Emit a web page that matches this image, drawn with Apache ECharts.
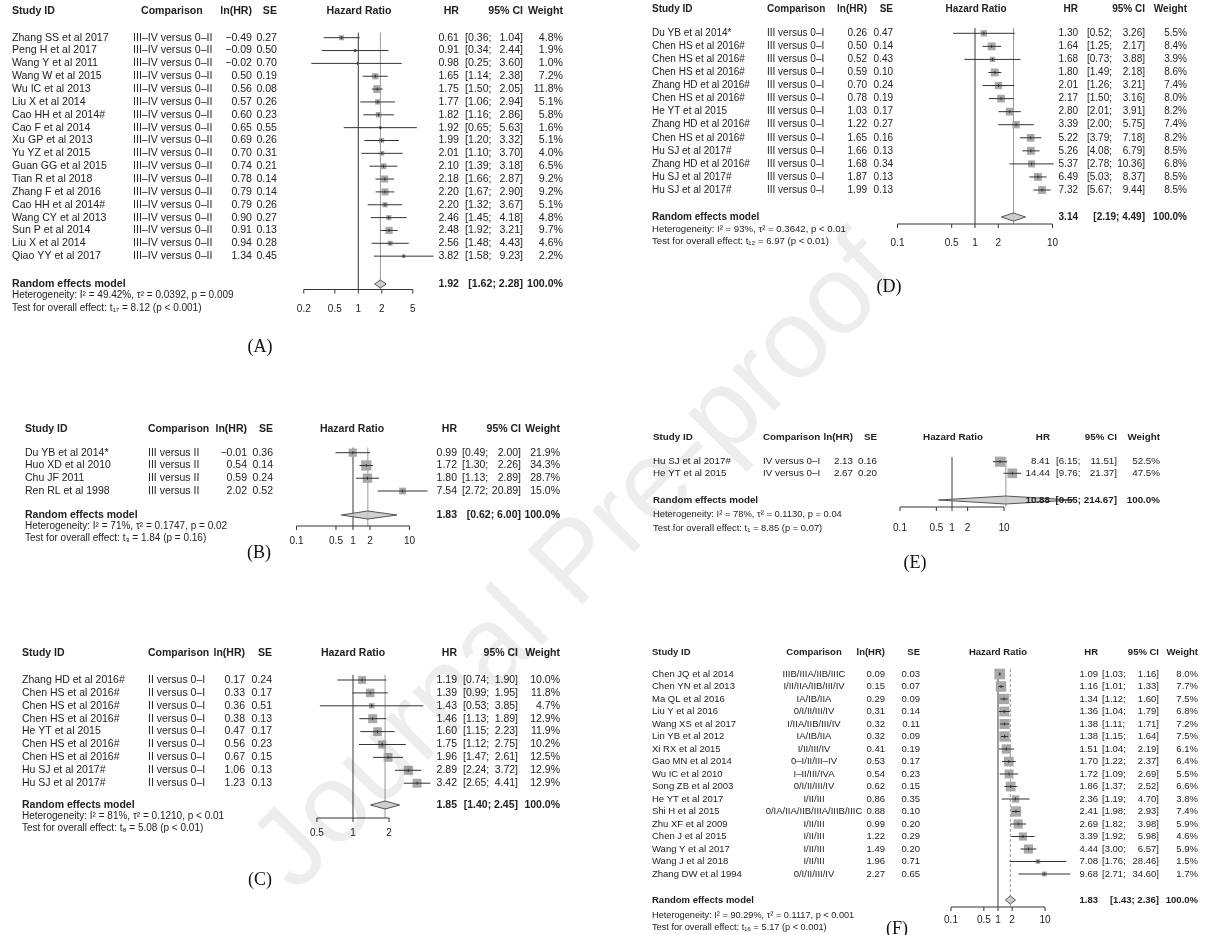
<!DOCTYPE html>
<html><head><meta charset="utf-8">
<script src="https://cdn.jsdelivr.net/npm/echarts@6/dist/echarts.min.js"></script>
<style>html,body{margin:0;padding:0;background:#fff}#c{width:1206px;height:935px}</style>
</head><body><div id="c"></div><script>
// ---------------- Panel A ----------------
const A_study = ["Zhang SS et al 2017","Peng H et al 2017","Wang Y et al 2011","Wang W et al 2015","Wu IC et al 2013","Liu X et al 2014","Cao HH et al 2014#","Cao F et al 2014","Xu GP et al 2013","Yu YZ et al 2015","Guan GG et al 2015","Tian R et al 2018","Zhang F et al 2016","Cao HH et al 2014#","Wang CY et al 2013","Sun P et al 2014","Liu X et al 2014","Qiao YY et al 2017"];
const A_comp = Array(18).fill("III–IV versus 0–II");
const A_lnhr = [-0.49,-0.09,-0.02,0.50,0.56,0.57,0.60,0.65,0.69,0.70,0.74,0.78,0.79,0.79,0.90,0.91,0.94,1.34];
const A_se = [0.27,0.50,0.70,0.19,0.08,0.26,0.23,0.55,0.26,0.31,0.21,0.14,0.14,0.26,0.27,0.13,0.28,0.45];
const A_hr = [0.61,0.91,0.98,1.65,1.75,1.77,1.82,1.92,1.99,2.01,2.10,2.18,2.20,2.20,2.46,2.48,2.56,3.82];
const A_lo = [0.36,0.34,0.25,1.14,1.50,1.06,1.16,0.65,1.20,1.10,1.39,1.66,1.67,1.32,1.45,1.92,1.48,1.58];
const A_hi = [1.04,2.44,3.60,2.38,2.05,2.94,2.86,5.63,3.32,3.70,3.18,2.87,2.90,3.67,4.18,3.21,4.43,9.23];
const A_wt = [4.8,1.9,1.0,7.2,11.8,5.1,5.8,1.6,5.1,4.0,6.5,9.2,9.2,5.1,4.8,9.7,4.6,2.2];
const A_pooled = [1.92,1.62,2.28];
const A_het = "Heterogeneity: I² = 49.42%, τ² = 0.0392, p = 0.009";
const A_test = "Test for overall effect: t₁₇ = 8.12 (p < 0.001)";
const A_ticks = [0.2,0.5,1,2,5];
const A_tickLabels = ["0.2","0.5","1","2","5"];

// ---------------- Panel B ----------------
const B_study = ["Du YB et al 2014*","Huo XD et al 2010","Chu JF 2011","Ren RL et al 1998"];
const B_comp = Array(4).fill("III versus II");
const B_lnhr = [-0.01,0.54,0.59,2.02];
const B_se = [0.36,0.14,0.24,0.52];
const B_hr = [0.99,1.72,1.80,7.54];
const B_lo = [0.49,1.30,1.13,2.72];
const B_hi = [2.00,2.26,2.89,20.89];
const B_wt = [21.9,34.3,28.7,15.0];
const B_pooled = [1.83,0.62,6.00];
const B_het = "Heterogeneity: I² = 71%, τ² = 0.1747, p = 0.02";
const B_test = "Test for overall effect: t₃ = 1.84 (p = 0.16)";
const B_ticks = [0.1,0.5,1,2,10];
const B_tickLabels = ["0.1","0.5","1","2","10"];

// ---------------- Panel C ----------------
const C_study = ["Zhang HD et al 2016#","Chen HS et al 2016#","Chen HS et al 2016#","Chen HS et al 2016#","He YT et al 2015","Chen HS et al 2016#","Chen HS et al 2016#","Hu SJ et al 2017#","Hu SJ et al 2017#"];
const C_comp = Array(9).fill("II versus 0–I");
const C_lnhr = [0.17,0.33,0.36,0.38,0.47,0.56,0.67,1.06,1.23];
const C_se = [0.24,0.17,0.51,0.13,0.17,0.23,0.15,0.13,0.13];
const C_hr = [1.19,1.39,1.43,1.46,1.60,1.75,1.96,2.89,3.42];
const C_lo = [0.74,0.99,0.53,1.13,1.15,1.12,1.47,2.24,2.65];
const C_hi = [1.90,1.95,3.85,1.89,2.23,2.75,2.61,3.72,4.41];
const C_wt = [10.0,11.8,4.7,12.9,11.9,10.2,12.5,12.9,12.9];
const C_pooled = [1.85,1.40,2.45];
const C_het = "Heterogeneity: I² = 81%, τ² = 0.1210, p < 0.01";
const C_test = "Test for overall effect: t₈ = 5.08 (p < 0.01)";
const C_ticks = [0.5,1,2];
const C_tickLabels = ["0.5","1","2"];

// ---------------- Panel D ----------------
const D_study = ["Du YB et al 2014*","Chen HS et al 2016#","Chen HS et al 2016#","Chen HS et al 2016#","Zhang HD et al 2016#","Chen HS et al 2016#","He YT et al 2015","Zhang HD et al 2016#","Chen HS et al 2016#","Hu SJ et al 2017#","Zhang HD et al 2016#","Hu SJ et al 2017#","Hu SJ et al 2017#"];
const D_comp = Array(13).fill("III versus 0–I");
const D_lnhr = [0.26,0.50,0.52,0.59,0.70,0.78,1.03,1.22,1.65,1.66,1.68,1.87,1.99];
const D_se = [0.47,0.14,0.43,0.10,0.24,0.19,0.17,0.27,0.16,0.13,0.34,0.13,0.13];
const D_hr = [1.30,1.64,1.68,1.80,2.01,2.17,2.80,3.39,5.22,5.26,5.37,6.49,7.32];
const D_lo = [0.52,1.25,0.73,1.49,1.26,1.50,2.01,2.00,3.79,4.08,2.78,5.03,5.67];
const D_hi = [3.26,2.17,3.88,2.18,3.21,3.16,3.91,5.75,7.18,6.79,10.36,8.37,9.44];
const D_wt = [5.5,8.4,3.9,8.6,7.4,8.0,8.2,7.4,8.2,8.5,6.8,8.5,8.5];
const D_pooled = [3.14,2.19,4.49];
const D_het = "Heterogeneity: I² = 93%, τ² = 0.3642, p < 0.01";
const D_test = "Test for overall effect: t₁₂ = 6.97 (p < 0.01)";
const D_ticks = [0.1,0.5,1,2,10];
const D_tickLabels = ["0.1","0.5","1","2","10"];

// ---------------- Panel E ----------------
const E_study = ["Hu SJ et al 2017#","He YT et al 2015"];
const E_comp = ["IV versus 0–I","IV versus 0–I"];
const E_lnhr = [2.13,2.67];
const E_se = [0.16,0.20];
const E_hr = [8.41,14.44];
const E_lo = [6.15,9.76];
const E_hi = [11.51,21.37];
const E_wt = [52.5,47.5];
const E_pooled = [10.88,0.55,214.67];
const E_het = "Heterogeneity: I² = 78%, τ² = 0.1130, p = 0.04";
const E_test = "Test for overall effect: t₁ = 8.85 (p = 0.07)";
const E_ticks = [0.1,0.5,1,2,10];
const E_tickLabels = ["0.1","0.5","1","2","10"];

// ---------------- Panel F ----------------
const F_study = ["Chen JQ et al 2014","Chen YN et al 2013","Ma QL et al 2016","Liu Y et al 2016","Wang XS et al 2017","Lin YB et al 2012","Xi RX et al 2015","Gao MN et al 2014","Wu IC et al 2010","Song ZB et al 2003","He YT et al 2017","Shi H et al 2015","Zhu XF et al 2009","Chen J et al 2015","Wang Y et al 2017","Wang J et al 2018","Zhang DW et al 1994"];
const F_comp = ["IIIB/IIIA/IIB/IIIC","I/II/IIA/IIB/III/IV","IA/IB/IIA","0/I/II/III/IV","I/IIA/IIB/III/IV","IA/IB/IIA","I/II/III/IV","0–I/II/III–IV","I–II/III/IVA","0/I/II/III/IV","I/II/III","0/IA/IIA/IIB/IIIA/IIIB/IIIC","I/II/III","I/II/III","I/II/III","I/II/III","0/I/II/III/IV"];
const F_lnhr = [0.09,0.15,0.29,0.31,0.32,0.32,0.41,0.53,0.54,0.62,0.86,0.88,0.99,1.22,1.49,1.96,2.27];
const F_se = [0.03,0.07,0.09,0.14,0.11,0.09,0.19,0.17,0.23,0.15,0.35,0.10,0.20,0.29,0.20,0.71,0.65];
const F_hr = [1.09,1.16,1.34,1.36,1.38,1.38,1.51,1.70,1.72,1.86,2.36,2.41,2.69,3.39,4.44,7.08,9.68];
const F_lo = [1.03,1.01,1.12,1.04,1.11,1.15,1.04,1.22,1.09,1.37,1.19,1.98,1.82,1.92,3.00,1.76,2.71];
const F_hi = [1.16,1.33,1.60,1.79,1.71,1.64,2.19,2.37,2.69,2.52,4.70,2.93,3.98,5.98,6.57,28.46,34.60];
const F_wt = [8.0,7.7,7.5,6.8,7.2,7.5,6.1,6.4,5.5,6.6,3.8,7.4,5.9,4.6,5.9,1.5,1.7];
const F_pooled = [1.83,1.43,2.36];
const F_het = "Heterogeneity: I² = 90.29%, τ² = 0.1117, p < 0.001";
const F_test = "Test for overall effect: t₁₆ = 5.17 (p < 0.001)";
const F_ticks = [0.1,0.5,1,2,10];
const F_tickLabels = ["0.1","0.5","1","2","10"];

// ---------------- layout (pixels) ----------------
const FONT = '"Liberation Sans", Arial, Helvetica, sans-serif';
const SERIF = '"Liberation Serif", "Times New Roman", serif';
const TXT = '#222';

const panels = [
 {name:'(A)', study:A_study, comp:A_comp, ln:A_lnhr, se:A_se, hr:A_hr, lo:A_lo, hi:A_hi, wt:A_wt, pooled:A_pooled, het:A_het, test:A_test, ticks:A_ticks, tickLabels:A_tickLabels,
  L:{x1:358.3, ppd:78, r1:37.7, step:12.85, header:11, sum:284, het:295.5, test:308, axis:289.5, tickLab:309,
     study:12, compX:133, compHX:141, compAlign:'left', lnR:252, seR:277, hrC:359, hrR:459, ciL:465, ciR:523, wR:563, lab:[260,347], k:2.33, dash:null, fs:10.6, hs:10}},
 {name:'(B)', study:B_study, comp:B_comp, ln:B_lnhr, se:B_se, hr:B_hr, lo:B_lo, hi:B_hi, wt:B_wt, pooled:B_pooled, het:B_het, test:B_test, ticks:B_ticks, tickLabels:B_tickLabels,
  L:{x1:353, ppd:56.5, r1:452.7, step:12.77, header:429, sum:515, het:526, test:538, axis:526, tickLab:541,
     study:25, compX:148, compAlign:'left', lnR:247, seR:273, hrC:352, hrR:457, ciL:462, ciR:521, wR:560, lab:[259,553], k:1.75, dash:null, fs:10.5, hs:10}},
 {name:'(C)', study:C_study, comp:C_comp, ln:C_lnhr, se:C_se, hr:C_hr, lo:C_lo, hi:C_hi, wt:C_wt, pooled:C_pooled, het:C_het, test:C_test, ticks:C_ticks, tickLabels:C_tickLabels,
  L:{x1:353, ppd:120, r1:680, step:12.9, header:653, sum:805, het:816, test:828, axis:818, tickLab:833,
     study:22, compX:148, compAlign:'left', lnR:245, seR:272, hrC:353, hrR:457, ciL:463, ciR:518, wR:560, lab:[260,880], k:2.5, dash:null, fs:10.5, hs:10}},
 {name:'(D)', study:D_study, comp:D_comp, ln:D_lnhr, se:D_se, hr:D_hr, lo:D_lo, hi:D_hi, wt:D_wt, pooled:D_pooled, het:D_het, test:D_test, ticks:D_ticks, tickLabels:D_tickLabels,
  L:{x1:975, ppd:77.5, r1:33.3, step:13.06, header:9, sum:217, het:229, test:241, axis:224, tickLab:243,
     study:652, compX:767, compAlign:'left', lnR:867, seR:893, hrC:976, hrR:1078, ciL:1087, ciR:1145, wR:1187, lab:[889,287], k:2.7, dash:null, fs:10, hs:9.6}},
 {name:'(E)', study:E_study, comp:E_comp, ln:E_lnhr, se:E_se, hr:E_hr, lo:E_lo, hi:E_hi, wt:E_wt, pooled:E_pooled, het:E_het, test:E_test, ticks:E_ticks, tickLabels:E_tickLabels,
  L:{x1:952, ppd:52, r1:461.7, step:11.6, header:437, sum:500, het:514, test:528, axis:507, tickLab:528,
     study:653, compX:763, compAlign:'left', lnR:853, seR:877, hrC:953, hrR:1050, ciL:1056, ciR:1117, wR:1160, lab:[915,563], k:1.4, dash:null, fs:9.8, hs:9.4}},
 {name:'(F)', study:F_study, comp:F_comp, ln:F_lnhr, se:F_se, hr:F_hr, lo:F_lo, hi:F_hi, wt:F_wt, pooled:F_pooled, het:F_het, test:F_test, ticks:F_ticks, tickLabels:F_tickLabels,
  L:{x1:998, ppd:47, r1:674, step:12.5, header:652, sum:900, het:915, test:927, axis:907, tickLab:920,
     study:652, compX:814, compAlign:'center', lnR:885, seR:920, hrC:998, hrR:1098, ciL:1102, ciR:1159, wR:1198, lab:[897,929], k:3.8, dash:[3,2], fs:9.5, hs:9.2}}
];

function rowOf(L, y){ return (y - L.r1)/L.step + 1; }
function fnum(v){ return (v < 0 ? '\u2212' : '') + Math.abs(v).toFixed(2); }
function txt(t, x, y, align, font){
  return {type:'text', style:{text:t, x:x, y:y, fill:TXT, font:font, align:align, verticalAlign:'middle', textAlign:align, textVerticalAlign:'middle'}};
}

function buildRows(P){
  const L = P.L, rows = [];
  rows.push({y:rowOf(L,L.header), b:1, cells:[
    ['Study ID',L.study,'left'],['Comparison',L.compHX||L.compX,L.compAlign],['ln(HR)',L.lnR,'right'],['SE',L.seR,'right'],
    ['Hazard Ratio',L.hrC,'center'],['HR',L.hrR,'right'],['95% CI',L.ciR,'right'],['Weight',L.wR,'right']]});
  P.study.forEach((s,i)=>rows.push({y:i+1, cells:[
    [s,L.study,'left'],[P.comp[i],L.compX,L.compAlign],[fnum(P.ln[i]),L.lnR,'right'],[P.se[i].toFixed(2),L.seR,'right'],
    [P.hr[i].toFixed(2),L.hrR,'right'],['['+P.lo[i].toFixed(2)+';',L.ciL,'left'],[P.hi[i].toFixed(2)+']',L.ciR,'right'],
    [P.wt[i].toFixed(1)+'%',L.wR,'right']]}));
  rows.push({y:rowOf(L,L.sum), b:1, cells:[
    ['Random effects model',L.study,'left'],[P.pooled[0].toFixed(2),L.hrR,'right'],
    ['['+P.pooled[1].toFixed(2)+'; '+P.pooled[2].toFixed(2)+']',L.ciR,'right'],['100.0%',L.wR,'right']]});
  rows.push({y:rowOf(L,L.het), small:1, cells:[[P.het,L.study,'left']]});
  rows.push({y:rowOf(L,L.test), small:1, cells:[[P.test,L.study,'left']]});
  return rows;
}

const grids=[], xAxes=[], yAxes=[], series=[], graphics=[];
const XMIN=0.01, XMAX=1000;
panels.forEach((P, gi)=>{
  const L = P.L;
  const M = rowOf(L, L.axis);
  grids.push({left: L.x1 + Math.log10(XMIN)*L.ppd, width:(Math.log10(XMAX)-Math.log10(XMIN))*L.ppd,
              top: L.r1 - L.step, height: M*L.step, outerBoundsMode:'none', containLabel:false});
  xAxes.push({type:'log', logBase:10, min:XMIN, max:XMAX, gridIndex:gi, show:false});
  yAxes.push({type:'value', min:0, max:M, inverse:true, gridIndex:gi, show:false});
  const top = 0.6;
  series.push({type:'line', xAxisIndex:gi, yAxisIndex:gi, data:[[1,top],[1,M]], symbol:'none', silent:true,
               lineStyle:{color:'#3a3a3a', width:1}, z:1});
  series.push({type:'line', xAxisIndex:gi, yAxisIndex:gi, data:[[P.pooled[0],top],[P.pooled[0],M]], symbol:'none', silent:true,
               lineStyle:{color:'#9a9a9a', width:1, type:L.dash||'solid'}, z:1});
  series.push({type:'custom', xAxisIndex:gi, yAxisIndex:gi, silent:true, z:3,
    data:P.hr.map((h,i)=>[h, i+1, P.lo[i], P.hi[i], P.wt[i]]), encode:{x:0,y:1},
    renderItem:(params, api)=>{
      const row=api.value(1), c=api.coord([api.value(0),row]), a=api.coord([api.value(2),row]), b=api.coord([api.value(3),row]);
      const s = L.k*Math.sqrt(api.value(4));
      return {type:'group', children:[
        {type:'rect', shape:{x:c[0]-s/2, y:c[1]-s/2, width:s, height:s}, style:{fill:'#a8a8a8'}},
        {type:'line', shape:{x1:a[0], y1:a[1], x2:b[0], y2:b[1]}, style:{stroke:'#333', lineWidth:1}},
        {type:'line', shape:{x1:c[0], y1:c[1]-1.5, x2:c[0], y2:c[1]+1.5}, style:{stroke:'#333', lineWidth:1}}
      ]};
    }});
  series.push({type:'custom', xAxisIndex:gi, yAxisIndex:gi, silent:true, z:3,
    data:[[P.pooled[0], rowOf(L,L.sum), P.pooled[1], P.pooled[2]]], encode:{x:0,y:1},
    renderItem:(params, api)=>{
      const row=api.value(1), c=api.coord([api.value(0),row]), a=api.coord([api.value(2),row]), b=api.coord([api.value(3),row]);
      const h=4;
      return {type:'polygon', shape:{points:[[a[0],c[1]],[c[0],c[1]-h],[b[0],c[1]],[c[0],c[1]+h]]},
              style:{fill:'rgba(200,200,200,0.85)', stroke:'#555', lineWidth:1}};
    }});
  series.push({type:'custom', xAxisIndex:gi, yAxisIndex:gi, silent:true, z:2,
    data:P.ticks.map(t=>[t, M]), encode:{x:0,y:1},
    renderItem:(params, api)=>{
      const p=api.coord([api.value(0), api.value(1)]);
      const ch=[
        {type:'line', shape:{x1:p[0], y1:p[1], x2:p[0], y2:p[1]+4}, style:{stroke:'#333', lineWidth:1}},
        txt(P.tickLabels[params.dataIndex], p[0], p[1] + (L.tickLab - L.axis), 'center', '10px '+FONT)
      ];
      if (params.dataIndex===0){
        const q0=api.coord([P.ticks[0], M]), q1=api.coord([P.ticks[P.ticks.length-1], M]);
        ch.push({type:'line', shape:{x1:q0[0], y1:q0[1], x2:q1[0], y2:q1[1]}, style:{stroke:'#333', lineWidth:1}});
      }
      return {type:'group', children:ch};
    }});
  const rows = buildRows(P);
  series.push({type:'custom', xAxisIndex:gi, yAxisIndex:gi, silent:true, z:4,
    data:rows.map(r=>[1, r.y]), encode:{x:0,y:1},
    renderItem:(params, api)=>{
      const r=rows[params.dataIndex];
      const y=api.coord([1, r.y])[1];
      const font=(r.b?'bold ':'')+(r.small?L.hs:L.fs)+'px '+FONT;
      return {type:'group', children:r.cells.map(c=>txt(c[0], c[1], y, c[2], font))};
    }});
  graphics.push({type:'text', x:L.lab[0], y:L.lab[1], style:{text:P.name, font:'18px '+SERIF, fill:'#111', align:'center', verticalAlign:'middle', textAlign:'center', textVerticalAlign:'middle'}});
});

graphics.push({type:'text', x:578, y:565, rotation:0.79, z:100,
  style:{text:'Journal Pre-proof', font:'112px '+FONT, fill:'rgba(0,0,0,0.07)', align:'center', verticalAlign:'middle', textAlign:'center', textVerticalAlign:'middle'}});

const chart = echarts.init(document.getElementById('c'), null, {renderer:'canvas'});
chart.setOption({animation:false, backgroundColor:'#fff', grid:grids, xAxis:xAxes, yAxis:yAxes, series:series, graphic:{elements:graphics}});
</script></body></html>
